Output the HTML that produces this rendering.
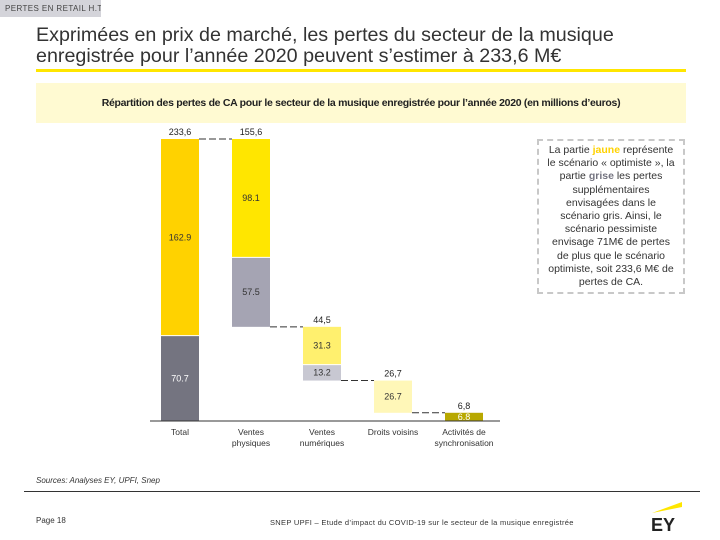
<!DOCTYPE html>
<html><head><meta charset="utf-8"><style>
body{margin:0;width:720px;height:540px;background:#fff;font-family:"Liberation Sans",sans-serif;overflow:hidden;position:relative}
.abs{position:absolute}
</style></head><body>
<div class="abs" style="left:0;top:0;width:101px;height:17px;background:#d4d4da;font-size:8px;letter-spacing:0.4px;color:#444;line-height:17px;padding-left:5px;box-sizing:border-box;white-space:nowrap;overflow:hidden">PERTES EN RETAIL H.T.</div>
<div class="abs" style="left:36px;top:25px;width:660px;font-size:19.7px;line-height:21px;color:#333">Exprimées en prix de marché, les pertes du secteur de la musique enregistrée pour l’année 2020 peuvent s’estimer à 233,6 M€</div>
<div class="abs" style="left:36px;top:69px;width:650px;height:3px;background:#ffe600"></div>
<div class="abs" style="left:36px;top:83px;width:650px;height:40px;background:#fffad2;font-size:10.5px;font-weight:bold;text-align:center;line-height:40px;color:#222;letter-spacing:-0.3px">Répartition des pertes de CA pour le secteur de la musique enregistrée pour l’année 2020 (en millions d’euros)</div>
<div class="abs" style="left:537px;top:139px;width:148px;height:155px;border:2px dashed #c8c8c8;box-sizing:border-box;font-size:10.5px;line-height:13.2px;text-align:center;color:#333;padding:3px 0;white-space:nowrap">La partie <b style="color:#ffd200">jaune</b> représente<br>le scénario « optimiste », la<br>partie <b style="color:#747480">grise</b> les pertes<br>supplémentaires<br>envisagées dans le<br>scénario gris. Ainsi, le<br>scénario pessimiste<br>envisage 71M€ de pertes<br>de plus que le scénario<br>optimiste, soit 233,6 M€ de<br>pertes de CA.</div>
<svg class="abs" style="left:0;top:0" width="720" height="540" id="chart"></svg>
<div class="abs" style="left:36px;top:476px;font-size:8px;font-style:italic;color:#333">Sources: Analyses EY, UPFI, Snep</div>
<div class="abs" style="left:24px;top:491px;width:676px;height:1px;background:#333"></div>
<div class="abs" style="left:36px;top:516px;font-size:8px;color:#333">Page 18</div>
<div class="abs" style="left:270px;top:518px;font-size:7.5px;color:#333;letter-spacing:0.3px">SNEP UPFI – Etude d’impact du COVID-19 sur le secteur de la musique enregistrée</div>
<svg class="abs" style="left:648px;top:500px" width="36" height="32"><polygon points="4,13 34,2 34,7" fill="#ffe600"/><text x="3" y="31" font-size="18" font-weight="bold" fill="#222" font-family="Liberation Sans">EY</text></svg>
<script>
const categories=["Total","Ventes\nphysiques","Ventes\nnumériques","Droits voisins","Activités de\nsynchronisation"];
const yellowVals=[162.9,98.1,31.3,26.7,6.8];
const grayVals=[70.7,57.5,13.2,0,0];
const totalLabels=["233,6","155,6","44,5","26,7","6,8"];
const yellowCols=["#ffd200","#ffe600","#fff06e","#fff7b8","#b8a800"];
const grayCols=["#747480","#a5a4b3","#c8c8d2","#ccc","#ccc"];
const svg=document.getElementById('chart');const NS="http://www.w3.org/2000/svg";
const base=421,scale=282/233.6,x0=161,step=71,bw=38;
const y=v=>base-v*scale;
function mk(t,a){const e=document.createElementNS(NS,t);for(const k in a)e.setAttribute(k,a[k]);svg.appendChild(e);return e;}
let tops=[];
let cur=yellowVals[0]+grayVals[0];
for(let i=0;i<categories.length;i++){
 const sum=yellowVals[i]+grayVals[i];
 let top,bottom;
 if(i===0){top=sum;bottom=0;}else{top=cur;bottom=cur-sum;cur=bottom;}
 tops.push(top);
 const x=x0+i*step;
 const g=mk('rect',{x:x,y:y(bottom+grayVals[i]),width:bw,height:grayVals[i]*scale,fill:grayCols[i]});
 
 const r=mk('rect',{x:x,y:y(top),width:bw,height:yellowVals[i]*scale,fill:yellowCols[i]});
 
 if(grayVals[i]>0){mk('line',{x1:x,x2:x+bw,y1:y(bottom+grayVals[i]),y2:y(bottom+grayVals[i]),stroke:'#fff','stroke-width':1});}
 const tl=mk('text',{x:x+bw/2,y:y(top)-4,'font-size':9,'text-anchor':'middle',fill:'#222'});tl.textContent=totalLabels[i];
 
 const yl=mk('text',{x:x+bw/2,y:y(top-yellowVals[i]/2)+3,'font-size':9,'text-anchor':'middle',fill:i==4?'#fff':'#333'});yl.textContent=String(yellowVals[i]);
 
 if(grayVals[i]>0){const gl=mk('text',{x:x+bw/2,y:y(bottom+grayVals[i]/2)+3,'font-size':9,'text-anchor':'middle',fill:i==0?'#fff':'#333'});gl.textContent=String(grayVals[i]);
 }
 const lines=categories[i].split("\n");
 lines.forEach((s,j)=>{const c=mk('text',{x:x+bw/2,y:435+j*11,'font-size':8.5,'text-anchor':'middle',fill:'#333'});c.textContent=s;
 });
 if(i>0){
  const cl=mk('line',{x1:x-step+bw,x2:x,y1:y(top),y2:y(top),stroke:'#333','stroke-width':1,'stroke-dasharray':'7,3'});
  }
}
const ax=mk('line',{x1:150,x2:500,y1:base,y2:base,stroke:'#333','stroke-width':1});

</script>
</body></html>
